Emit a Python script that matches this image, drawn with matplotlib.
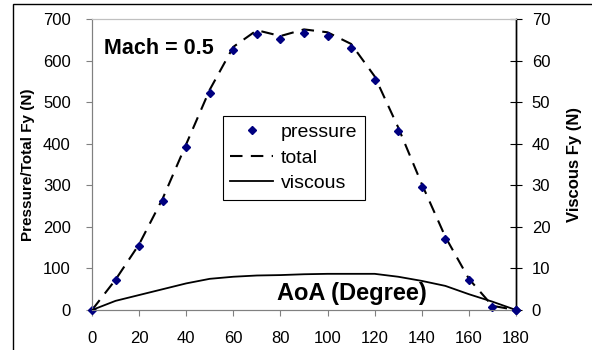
import matplotlib
matplotlib.use("Agg")
import matplotlib.pyplot as plt
from matplotlib.patches import Rectangle

plt.rcParams['font.family'] = ['Liberation Sans', 'DejaVu Sans']

## data
aoa = [0, 10, 20, 30, 40, 50, 60, 70, 80, 90, 100, 110, 120, 130, 140, 150, 160, 170, 180]
pressure = [0, 71, 154, 263, 393, 522, 625, 665, 651, 667, 659, 631, 553, 431, 296, 170, 71, 8, 0]
total = [0, 73, 158, 268, 399, 530, 633, 673, 659, 675, 668, 640, 562, 439, 303, 176, 75, 10, 0]
viscous = [0, 2.2, 3.6, 5.0, 6.4, 7.5, 8.0, 8.3, 8.4, 8.6, 8.7, 8.7, 8.7, 8.0, 7.0, 5.8, 3.8, 2.0, 0]

x_ticks = list(range(0, 181, 20))
left_ticks = list(range(0, 701, 100))
right_ticks = list(range(0, 71, 10))

fig = plt.figure(figsize=(5.92, 3.5), dpi=100)
ax = fig.add_axes([92/592, 1-310/350, 424/592, 291/350])
ax2 = ax.twinx()

# outer frame (only left/top visible in the crop)
fig.patches.append(Rectangle((12.5/592, -0.1), 1.2, 1.1-3.5/350, transform=fig.transFigure,
                             fill=False, edgecolor='black', linewidth=1.0))

ax.plot(aoa, total, color='black', linestyle=(0, (6, 4)), linewidth=1.5, label='total', zorder=3)
ax.plot(aoa, pressure, linestyle='none', marker='D', markersize=4.5, color='#000080',
        label='pressure', zorder=4, clip_on=False)
ax2.plot(aoa, viscous, color='black', linewidth=1.3, label='viscous', zorder=3)
ax2.plot(aoa[-1:], [0], linestyle='none', marker='D', markersize=4.5, color='#000080',
         zorder=5, clip_on=False)

ax.set_xlim(0, 180)
ax.set_ylim(0, 700)
ax2.set_ylim(0, 70)
ax.set_xticks(x_ticks)
ax.set_yticks(left_ticks)
ax2.set_yticks(right_ticks)

ax.tick_params(axis='x', direction='out', length=4, width=0.8, color='#808080', pad=11, labelsize=12)
ax.tick_params(axis='y', direction='out', length=4.3, width=0.8, color='#808080', pad=11, labelsize=12)
ax2.tick_params(axis='y', direction='inout', length=8.6, width=0.8, color='black', pad=7, labelsize=12)

for a in (ax, ax2):
    a.spines['left'].set_color('#808080')
    a.spines['bottom'].set_color('#808080')
    a.spines['top'].set_color('#c0c0c0')
    a.spines['right'].set_color('black')
    a.spines['right'].set_linewidth(1.0)

ax.set_ylabel('Pressure/Total Fy (N)', fontsize=11, fontweight='bold', labelpad=6)
ax2.set_ylabel('Viscous Fy (N)', fontsize=12, fontweight='bold', labelpad=12)

ax.text(5.1, 615, 'Mach = 0.5', fontsize=15.5, fontweight='bold', ha='left', va='baseline')
ax.text(78.5, 24, 'AoA (Degree)', fontsize=17, fontweight='bold', ha='left', va='baseline')

h1, l1 = ax.get_legend_handles_labels()
h2, l2 = ax2.get_legend_handles_labels()
handles = [h1[1], h1[0], h2[0]]
labels = [l1[1], l1[0], l2[0]]
leg = ax2.legend(handles, labels, loc='upper left', bbox_to_anchor=(0.308, 0.667), fontsize=14,
                 frameon=True, fancybox=False, edgecolor='black', framealpha=1,
                 handlelength=2.2, handletextpad=0.4, borderpad=0.4, labelspacing=0.4,
                 borderaxespad=0)
leg.get_frame().set_linewidth(0.8)

fig.savefig('out.png', dpi=100)
